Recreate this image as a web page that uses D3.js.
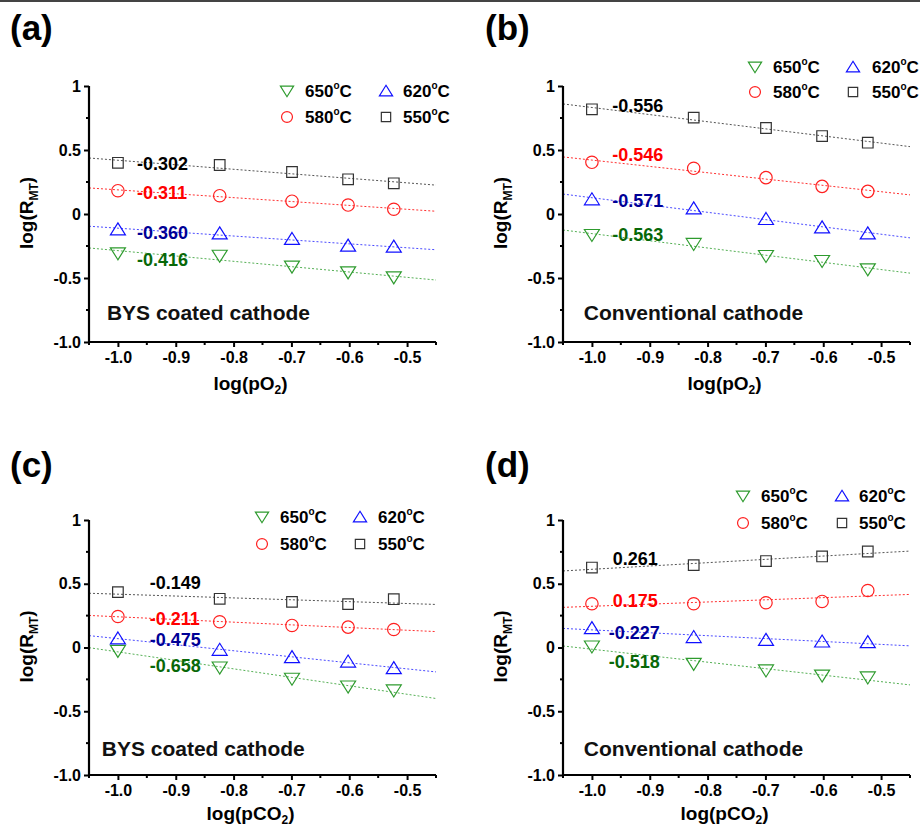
<!DOCTYPE html>
<html>
<head>
<meta charset="utf-8">
<script src="https://cdn.jsdelivr.net/npm/d3@7"></script>
<style>
html,body{margin:0;padding:0;background:#fff;}
svg{display:block;font-family:"Liberation Sans",Arial,sans-serif;}
</style>
</head>
<body>
<svg id="chart" width="920" height="829"></svg>
<script>
// ---------- data ----------
const xVals = [-1.0, -0.824, -0.699, -0.602, -0.523];
const xTickVals = [-1.0, -0.9, -0.8, -0.7, -0.6, -0.5];
const xTickLabels = ["-1.0", "-0.9", "-0.8", "-0.7", "-0.6", "-0.5"];
const yTickVals = [-1.0, -0.5, 0, 0.5, 1];
const yTickLabels = ["-1.0", "-0.5", "0", "0.5", "1"];
const temps = ["650", "620", "580", "550"];

// panel (a) BYS coated, pO2
const a650 = [-0.307, -0.326, -0.411, -0.456, -0.495];
const a620 = [-0.120, -0.151, -0.195, -0.247, -0.255];
const a580 = [0.182, 0.143, 0.100, 0.070, 0.037];
const a550 = [0.400, 0.383, 0.328, 0.271, 0.240];
const aSlopes = ["-0.416", "-0.360", "-0.311", "-0.302"];

// panel (b) Conventional, pO2
const b650 = [-0.164, -0.234, -0.328, -0.367, -0.432];
const b620 = [0.115, 0.044, -0.039, -0.104, -0.151];
const b580 = [0.404, 0.357, 0.284, 0.216, 0.177];
const b550 = [0.818, 0.753, 0.672, 0.609, 0.557];
const bSlopes = ["-0.563", "-0.571", "-0.546", "-0.556"];

// panel (c) BYS coated, pCO2
const c650 = [-0.026, -0.157, -0.245, -0.306, -0.337];
const c620 = [0.071, -0.018, -0.075, -0.110, -0.162];
const c580 = [0.243, 0.202, 0.173, 0.160, 0.141];
const c550 = [0.434, 0.382, 0.358, 0.340, 0.379];
const cSlopes = ["-0.658", "-0.475", "-0.211", "-0.149"];

// panel (d) Conventional, pCO2
const d650 = [0.008, -0.128, -0.180, -0.220, -0.235];
const d620 = [0.152, 0.082, 0.060, 0.047, 0.042];
const d580 = [0.343, 0.343, 0.351, 0.361, 0.447];
const d550 = [0.627, 0.646, 0.678, 0.714, 0.753];
const dSlopes = ["-0.518", "-0.227", "0.175", "0.261"];

// ---------- styles ----------
const FONT = '"Liberation Sans",Arial,sans-serif';
const markerColor = ["#2e9b2e", "#1010ff", "#ff2020", "#333333"];
const lineColor = ["#55b055", "#4a4aff", "#ff3030", "#555555"];
const annColor = ["#086808", "#000096", "#ff0000", "#000000"];
const shapes = ["tdown", "tup", "circle", "square"];

const panels = [
  {label: "(a)", lx: 10, ly: 40, left: 89, right: 436, top: 86, bottom: 342,
   series: [a650, a620, a580, a550], slopes: aSlopes, gas: "pO", note: "BYS coated cathode",
   annX: [-0.967, -0.967, -0.967, -0.967], annY: [-0.352, -0.141, 0.164, 0.398],
   noteX: -1.019, noteY: -0.766, titleDy: 48,
   leg: {m1: 198, m2: 297, t1: 216, t2: 314, r1: 5, r2: 31}},
  {label: "(b)", lx: 485, ly: 40, left: 563, right: 910, top: 86, bottom: 342,
   series: [b650, b620, b580, b550], slopes: bSlopes, gas: "pO", note: "Conventional cathode",
   annX: [-0.965, -0.965, -0.965, -0.965], annY: [-0.164, 0.109, 0.461, 0.844],
   noteX: -1.014, noteY: -0.766, titleDy: 48,
   leg: {m1: 192, m2: 290, t1: 210, t2: 309, r1: -19, r2: 6}},
  {label: "(c)", lx: 10, ly: 477, left: 89, right: 436, top: 520, bottom: 775,
   series: [c650, c620, c580, c550], slopes: cSlopes, gas: "pCO", note: "BYS coated cathode",
   annX: [-0.945, -0.945, -0.945, -0.945], annY: [-0.144, 0.060, 0.225, 0.513],
   noteX: -1.028, noteY: -0.795, titleDy: 45,
   leg: {m1: 173, m2: 271, t1: 191, t2: 289, r1: -3, r2: 24}},
  {label: "(d)", lx: 485, ly: 477, left: 563, right: 910, top: 520, bottom: 775,
   series: [d650, d620, d580, d550], slopes: dSlopes, gas: "pCO", note: "Conventional cathode",
   annX: [-0.971, -0.971, -0.964, -0.964], annY: [-0.112, 0.118, 0.369, 0.696],
   noteX: -1.014, noteY: -0.795, titleDy: 45,
   leg: {m1: 180, m2: 279, t1: 198, t2: 296, r1: -24, r2: 3}}
];

function shapePath(type, s) {
  s = s || 1;
  if (type === "tup") {
    return `M0,${-6.5*s}L${7.5*s},${5.5*s}L${-7.5*s},${5.5*s}Z`;
  } else if (type === "tdown") {
    return `M0,${6.5*s}L${-7.5*s},${-5.5*s}L${7.5*s},${-5.5*s}Z`;
  } else if (type === "square") {
    const h = 5.3 * s;
    return `M${-h},${-h}H${h}V${h}H${-h}Z`;
  } else {
    const r = 6.2 * s;
    return `M${r},0A${r},${r} 0 1,1 ${-r},0A${r},${r} 0 1,1 ${r},0Z`;
  }
}

function linreg(xs, ys) {
  const mx = d3.mean(xs), my = d3.mean(ys);
  let sxy = 0, sxx = 0;
  xs.forEach((x, i) => { sxy += (x - mx) * (ys[i] - my); sxx += (x - mx) * (x - mx); });
  const b = sxy / sxx;
  return {b: b, a: my - b * mx};
}

const svg = d3.select("#chart");
svg.append("rect").attr("x", 0).attr("y", 0).attr("width", 920).attr("height", 2).attr("fill", "#444");

panels.forEach(p => {
  const x = d3.scaleLinear().domain([-1.05, -0.45]).range([p.left, p.right]);
  const y = d3.scaleLinear().domain([-1, 1]).range([p.bottom, p.top]);
  const g = svg.append("g");

  // panel label
  g.append("text").attr("x", p.lx).attr("y", p.ly)
    .attr("font-size", 35).attr("font-weight", "bold").attr("font-family", FONT)
    .text(p.label);

  // fit lines
  p.series.forEach((ys, i) => {
    const r = linreg(xVals, ys);
    const dom = x.domain();
    g.append("line")
      .attr("x1", x(dom[0])).attr("y1", y(r.a + r.b * dom[0]))
      .attr("x2", x(dom[1])).attr("y2", y(r.a + r.b * dom[1]))
      .attr("stroke", lineColor[i]).attr("stroke-width", 1)
      .attr("stroke-dasharray", "2,2");
  });

  // markers
  p.series.forEach((ys, i) => {
    g.selectAll(null).data(ys).enter().append("path")
      .attr("transform", (d, j) => `translate(${x(xVals[j])},${y(d)})`)
      .attr("d", shapePath(shapes[i]))
      .attr("fill", "none").attr("stroke", markerColor[i]).attr("stroke-width", 1.2);
  });

  // slope annotations
  p.slopes.forEach((s, i) => {
    g.append("text").attr("x", x(p.annX[i])).attr("y", y(p.annY[i]))
      .attr("dy", "0.36em")
      .attr("font-size", 18).attr("font-weight", "bold").attr("font-family", FONT)
      .attr("fill", annColor[i]).text(s);
  });

  // note
  g.append("text").attr("x", x(p.noteX)).attr("y", y(p.noteY)).attr("dy", "0.36em")
    .attr("font-size", 21).attr("font-weight", "bold").attr("font-family", FONT)
    .attr("fill", "#111").text(p.note);

  // axes
  const yAxis = d3.axisLeft(y).tickValues(yTickVals)
    .tickFormat((d, i) => yTickLabels[i]).tickSize(5).tickPadding(3);
  const yg = g.append("g").attr("transform", `translate(${p.left},0)`).call(yAxis);
  const xAxis = d3.axisBottom(x).tickValues(xTickVals)
    .tickFormat((d, i) => xTickLabels[i]).tickSize(5).tickPadding(5);
  const xg = g.append("g").attr("transform", `translate(0,${p.bottom})`).call(xAxis);
  [yg, xg].forEach(ag => {
    ag.select(".domain").attr("stroke", "#000").attr("stroke-width", 2.2);
    ag.selectAll(".tick line").attr("stroke", "#000").attr("stroke-width", 2);
    ag.selectAll(".tick text").attr("font-size", 16).attr("font-weight", "bold")
      .attr("font-family", FONT).attr("fill", "#000");
  });
  yg.select(".domain").attr("d", `M0,${p.bottom}V${p.top}`);
  xg.select(".domain").attr("d", `M${p.left},0H${p.right}`);

  // minor ticks
  const yMinor = [-0.75, -0.25, 0.25, 0.75];
  yMinor.forEach(v => {
    g.append("line").attr("x1", p.left - 3).attr("x2", p.left).attr("y1", y(v)).attr("y2", y(v))
      .attr("stroke", "#000").attr("stroke-width", 2);
  });
  const xMinor = [-1.05, -0.95, -0.85, -0.75, -0.65, -0.55, -0.45];
  xMinor.forEach(v => {
    g.append("line").attr("x1", x(v)).attr("x2", x(v)).attr("y1", p.bottom).attr("y2", p.bottom + 3)
      .attr("stroke", "#000").attr("stroke-width", 2);
  });

  // axis titles
  const xt = g.append("text").attr("x", (p.left + p.right) / 2 - 12).attr("y", p.bottom + p.titleDy)
    .attr("text-anchor", "middle").attr("font-size", 19).attr("font-weight", "bold")
    .attr("font-family", FONT);
  xt.append("tspan").text("log(" + p.gas);
  xt.append("tspan").attr("font-size", 12).attr("dy", 4).text("2");
  xt.append("tspan").attr("dy", -4).text(")");

  const ytx = p.left - 56, yty = (p.top + p.bottom) / 2 - 1;
  const yt = g.append("text").attr("transform", `translate(${ytx},${yty}) rotate(-90)`)
    .attr("text-anchor", "middle").attr("font-size", 19).attr("font-weight", "bold")
    .attr("font-family", FONT);
  yt.append("tspan").text("log(R");
  yt.append("tspan").attr("font-size", 12).attr("dy", 5).text("MT");
  yt.append("tspan").attr("dy", -5).text(")");

  // legend
  const L = p.leg;
  const legItems = [
    {i: 0, mx: L.m1, tx: L.t1, ry: L.r1},
    {i: 1, mx: L.m2, tx: L.t2, ry: L.r1},
    {i: 2, mx: L.m1, tx: L.t1, ry: L.r2},
    {i: 3, mx: L.m2, tx: L.t2, ry: L.r2}
  ];
  legItems.forEach(it => {
    const cy = p.top + it.ry;
    g.append("path").attr("transform", `translate(${p.left + it.mx},${cy})`)
      .attr("d", shapePath(shapes[it.i], 0.88))
      .attr("fill", "none").attr("stroke", markerColor[it.i]).attr("stroke-width", 1.2);
    const t = g.append("text").attr("x", p.left + it.tx).attr("y", cy + 6)
      .attr("font-size", 17).attr("font-weight", "bold").attr("font-family", FONT);
    t.append("tspan").text(temps[it.i]);
    t.append("tspan").attr("font-size", 10).attr("dy", -8).text("o");
    t.append("tspan").attr("dy", 8).text("C");
  });
});
</script>
</body>
</html>
